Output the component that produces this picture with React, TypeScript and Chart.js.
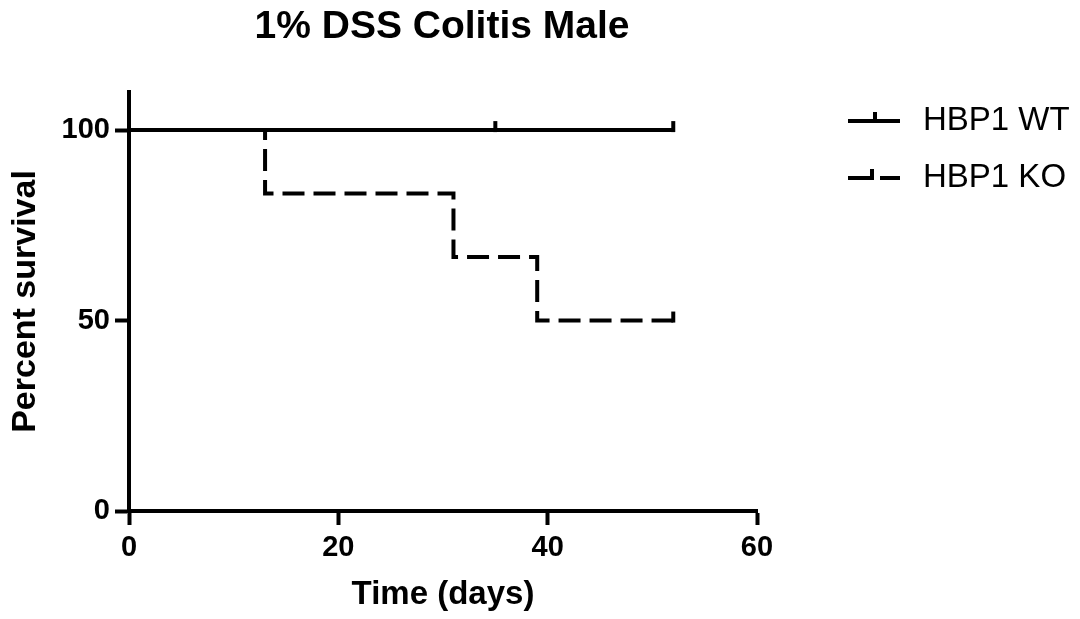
import React, { useEffect, useRef } from "react";
import { Chart, registerables } from "chart.js";

Chart.register(...registerables);

const chartTitle = "1% DSS Colitis Male";
const xAxisTitle = "Time (days)";
const yAxisTitle = "Percent survival";
const seriesNames = ["HBP1 WT", "HBP1 KO"];

const wtDays = [0, 52];
const wtSurvival = [100, 100];
const wtCensorDays = [35, 52];

const koDays = [0, 13, 31, 39, 52];
const koSurvival = [100, 83.33, 66.67, 50, 50];
const koCensorDays = [52];

const xTicks = [0, 20, 40, 60];
const yTicks = [0, 50, 100];

const FONT = "'Liberation Sans', Arial, Helvetica, sans-serif";
const INK = "#000000";

function survivalAt(days: number[], surv: number[], t: number) {
  let v = surv[0];
  for (let i = 0; i < days.length; i++) {
    if (days[i] <= t) v = surv[i];
  }
  return v;
}

const censorSets = [
  { days: wtDays, surv: wtSurvival, censor: wtCensorDays },
  { days: koDays, surv: koSurvival, censor: koCensorDays },
];

const decorPlugin = {
  id: "decor",
  afterDatasetsDraw(chart: any) {
    const { ctx, scales } = chart;
    const xs = scales.x;
    const ys = scales.y;
    ctx.save();
    ctx.strokeStyle = INK;
    ctx.lineWidth = 4;
    ctx.lineCap = "butt";
    ctx.setLineDash([]);
    censorSets.forEach((s) => {
      s.censor.forEach((t) => {
        const x = xs.getPixelForValue(t);
        const y = ys.getPixelForValue(survivalAt(s.days, s.surv, t));
        ctx.beginPath();
        ctx.moveTo(x, y + 2);
        ctx.lineTo(x, y - 9);
        ctx.stroke();
      });
    });
    ctx.restore();
  },
  afterDraw(chart: any) {
    const { ctx, chartArea } = chart;
    ctx.save();
    // Title
    ctx.fillStyle = INK;
    ctx.font = `bold 39px ${FONT}`;
    ctx.textAlign = "center";
    ctx.textBaseline = "alphabetic";
    ctx.fillText(chartTitle, (chartArea.left + chartArea.right) / 2 - 1, 38);

    // Legend
    const lx0 = chartArea.right + 91;
    const lx1 = chartArea.right + 143;
    const tx = chartArea.right + 166;
    const rows = [121, 178];
    ctx.strokeStyle = INK;
    ctx.lineWidth = 4;
    ctx.lineCap = "butt";
    // WT
    ctx.setLineDash([]);
    ctx.beginPath();
    ctx.moveTo(lx0, rows[0]);
    ctx.lineTo(lx1, rows[0]);
    ctx.stroke();
    ctx.beginPath();
    ctx.moveTo(lx0 + 27, rows[0] + 2);
    ctx.lineTo(lx0 + 27, rows[0] - 9);
    ctx.stroke();
    // KO
    ctx.setLineDash([25, 7]);
    ctx.beginPath();
    ctx.moveTo(lx0, rows[1]);
    ctx.lineTo(lx1, rows[1]);
    ctx.stroke();
    ctx.setLineDash([]);
    ctx.beginPath();
    ctx.moveTo(lx0 + 24, rows[1] + 2);
    ctx.lineTo(lx0 + 24, rows[1] - 9);
    ctx.stroke();

    ctx.font = `33px ${FONT}`;
    ctx.textAlign = "left";
    ctx.textBaseline = "middle";
    ctx.fillText(seriesNames[0], tx, rows[0]);
    ctx.fillText(seriesNames[1], tx, rows[1]);
    ctx.restore();
  },
};

export default function App() {
  const ref = useRef<HTMLCanvasElement | null>(null);
  useEffect(() => {
    if (!ref.current) return;
    const chart = new Chart(ref.current, {
      type: "line",
      data: {
        datasets: [
          {
            label: seriesNames[0],
            data: wtDays.map((d, i) => ({ x: d, y: wtSurvival[i] })),
            borderColor: INK,
            borderWidth: 4,
            stepped: "before",
            pointRadius: 0,
            fill: false,
            borderCapStyle: "butt",
          },
          {
            label: seriesNames[1],
            data: koDays.map((d, i) => ({ x: d, y: koSurvival[i] })),
            borderColor: INK,
            borderWidth: 4,
            borderDash: [22, 9],
            stepped: "before",
            pointRadius: 0,
            fill: false,
            borderCapStyle: "butt",
          },
        ],
      },
      options: {
        responsive: false,
        animation: false,
        layout: { padding: { top: 92, right: 323, bottom: 0, left: 0 } },
        plugins: {
          legend: { display: false },
          title: { display: false },
          tooltip: { enabled: false },
        },
        scales: {
          x: {
            type: "linear",
            min: 0,
            max: 60,
            afterBuildTicks: (s: any) => {
              s.ticks = xTicks.map((v) => ({ value: v }));
            },
            afterFit: (s: any) => {
              s.height = 108;
            },
            border: { display: true, color: INK, width: 4 },
            grid: {
              drawOnChartArea: false,
              drawTicks: true,
              tickLength: 14,
              tickWidth: 4,
              tickColor: INK,
            },
            ticks: {
              color: INK,
              padding: 6,
              font: { family: FONT, size: 29, weight: "bold" },
              maxRotation: 0,
            },
            title: {
              display: true,
              text: xAxisTitle,
              color: INK,
              font: { family: FONT, size: 33, weight: "bold" },
              padding: { top: 0, bottom: 4 },
            },
          },
          y: {
            type: "linear",
            min: 0,
            max: 110,
            afterBuildTicks: (s: any) => {
              s.ticks = yTicks.map((v) => ({ value: v }));
            },
            afterFit: (s: any) => {
              s.width = 129;
            },
            border: { display: true, color: INK, width: 4 },
            grid: {
              drawOnChartArea: false,
              drawTicks: true,
              tickLength: 14,
              tickWidth: 4,
              tickColor: INK,
            },
            ticks: {
              color: INK,
              padding: 5,
              font: { family: FONT, size: 29, weight: "bold" },
            },
            title: {
              display: true,
              text: yAxisTitle,
              color: INK,
              font: { family: FONT, size: 34, weight: "bold" },
              padding: { top: 5, bottom: 0 },
            },
          },
        },
      },
      plugins: [decorPlugin],
    } as any);
    return () => chart.destroy();
  }, []);
  return (
    <div
      style={{
        position: "fixed",
        left: 0,
        top: 0,
        width: 1080,
        height: 619,
        background: "#ffffff",
      }}
    >
      <canvas ref={ref} width={1080} height={619} style={{ display: "block" }} />
    </div>
  );
}
